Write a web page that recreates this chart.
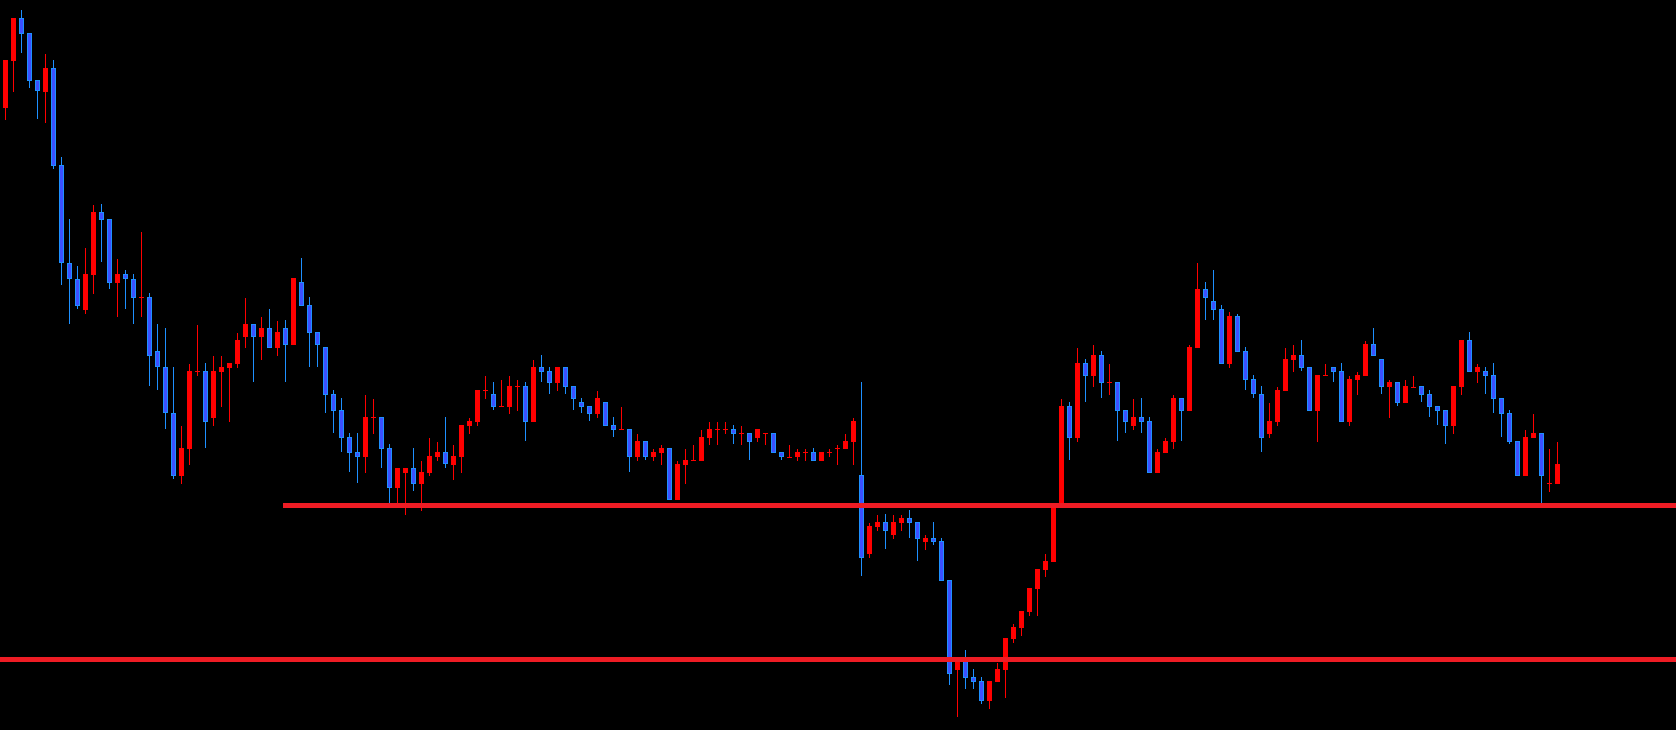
<!DOCTYPE html>
<html>
<head>
<meta charset="utf-8">
<script src="https://cdn.jsdelivr.net/npm/d3@7"></script>
<style>
  html, body { margin: 0; padding: 0; background: #000; overflow: hidden; }
  svg { display: block; }
</style>
</head>
<body>
<div class="chart-container"></div>
<script>
// OHLC bars
const open = [
  146.92, 147.39, 147.82, 147.67, 147.20, 147.08, 147.32, 146.35, 145.37, 145.21,
  144.90, 145.25, 145.88, 145.81, 145.17, 145.26, 145.21, 145.03, 145.03, 144.49,
  144.33, 143.87, 143.24, 143.51, 144.29, 144.29, 143.82, 144.28, 144.32, 144.36,
  144.63, 144.76, 144.63, 144.72, 144.52, 144.72, 144.55, 145.18, 144.95, 144.68,
  144.53, 144.06, 143.90, 143.63, 143.48, 143.43, 143.83, 143.83, 143.52, 143.12,
  143.27, 143.32, 143.16, 143.27, 143.43, 143.48, 143.35, 143.43, 143.74, 143.78,
  144.10, 144.06, 143.94, 143.93, 144.14, 144.14, 143.78, 144.33, 144.29, 144.17,
  144.33, 144.14, 143.98, 143.94, 143.86, 143.98, 143.75, 143.71, 143.71, 143.43,
  143.59, 143.43, 143.47, 143.52, 143.00, 143.35, 143.40, 143.39, 143.62, 143.71,
  143.71, 143.71, 143.67, 143.67, 143.62, 143.67, 143.67, 143.48, 143.43, 143.43,
  143.48, 143.48, 143.39, 143.48, 143.52, 143.51, 143.58, 143.25, 142.46, 142.73,
  142.78, 142.65, 142.77, 142.82, 142.78, 142.58, 142.62, 142.59, 142.20, 141.30,
  141.40, 141.23, 141.19, 140.99, 141.18, 141.30, 141.61, 141.72, 141.88, 142.11,
  142.30, 142.38, 142.96, 143.94, 143.62, 144.37, 144.24, 144.45, 144.18, 144.18,
  143.90, 143.74, 143.83, 143.79, 143.27, 143.47, 143.58, 144.02, 143.89, 144.52,
  145.11, 144.99, 144.91, 144.36, 144.84, 144.49, 144.21, 144.06, 143.66, 143.78,
  144.09, 144.40, 144.45, 144.33, 143.89, 144.25, 144.33, 144.29, 143.78, 144.20,
  144.24, 144.56, 144.41, 144.13, 144.18, 143.97, 144.13, 144.14, 144.06, 143.94,
  143.90, 143.74, 144.13, 144.60, 144.28, 144.29, 144.25, 144.02, 143.87, 143.59,
  143.24, 143.62, 143.67, 143.17, 143.16
]
const high = [
  147.40, 147.82, 147.90, 147.67, 147.20, 147.46, 147.40, 146.43, 145.81, 145.34,
  145.52, 145.95, 145.96, 145.81, 145.41, 145.30, 145.26, 145.68, 145.07, 144.76,
  144.72, 144.33, 143.74, 144.36, 144.75, 144.37, 144.44, 144.44, 144.37, 144.67,
  145.02, 144.76, 144.83, 144.91, 144.79, 144.80, 145.22, 145.42, 145.03, 144.68,
  144.53, 144.10, 144.02, 143.67, 143.67, 144.05, 144.01, 143.83, 143.56, 143.32,
  143.32, 143.52, 143.39, 143.62, 143.58, 143.83, 143.55, 143.75, 143.82, 144.10,
  144.24, 144.18, 144.20, 144.24, 144.20, 144.18, 144.40, 144.45, 144.33, 144.33,
  144.33, 144.14, 144.02, 143.94, 144.09, 143.98, 143.83, 143.93, 143.71, 143.66,
  143.59, 143.51, 143.55, 143.52, 143.39, 143.51, 143.55, 143.70, 143.78, 143.78,
  143.78, 143.75, 143.74, 143.67, 143.71, 143.67, 143.67, 143.48, 143.55, 143.51,
  143.51, 143.52, 143.48, 143.51, 143.55, 143.66, 143.82, 144.18, 142.77, 142.85,
  142.86, 142.85, 142.85, 142.90, 142.78, 142.65, 142.78, 142.62, 142.20, 141.42,
  141.50, 141.31, 141.23, 141.19, 141.37, 141.62, 141.76, 141.89, 142.12, 142.31,
  142.46, 142.95, 144.01, 143.98, 144.52, 144.41, 144.55, 144.49, 144.36, 144.18,
  143.90, 144.01, 144.02, 143.83, 143.51, 143.62, 144.05, 144.02, 144.55, 145.37,
  145.18, 145.30, 144.95, 144.88, 144.86, 144.53, 144.25, 144.14, 143.97, 144.13,
  144.52, 144.55, 144.60, 144.33, 144.25, 144.36, 144.33, 144.37, 144.24, 144.28,
  144.59, 144.72, 144.41, 144.20, 144.18, 144.20, 144.24, 144.14, 144.10, 143.94,
  143.90, 144.14, 144.60, 144.68, 144.36, 144.33, 144.37, 144.02, 143.90, 143.59,
  143.70, 143.86, 143.67, 143.51, 143.58
]
const low = [
  146.80, 147.08, 147.47, 147.12, 146.81, 146.77, 146.31, 145.15, 144.76, 144.91,
  144.86, 145.06, 145.38, 145.11, 144.83, 144.91, 144.76, 144.83, 144.14, 144.10,
  143.71, 143.21, 143.16, 143.35, 144.24, 143.52, 143.74, 143.93, 143.78, 144.32,
  144.52, 144.18, 144.40, 144.52, 144.44, 144.18, 144.55, 144.94, 144.33, 144.33,
  143.87, 143.67, 143.48, 143.28, 143.17, 143.27, 143.66, 143.32, 142.96, 142.95,
  142.85, 143.09, 142.89, 143.24, 143.39, 143.32, 143.20, 143.27, 143.66, 143.74,
  144.01, 143.90, 143.94, 143.86, 143.89, 143.59, 143.78, 144.18, 144.06, 144.09,
  144.06, 143.90, 143.87, 143.79, 143.82, 143.74, 143.63, 143.71, 143.28, 143.39,
  143.40, 143.39, 143.35, 143.00, 143.00, 143.16, 143.40, 143.39, 143.55, 143.55,
  143.66, 143.56, 143.55, 143.40, 143.58, 143.55, 143.47, 143.40, 143.43, 143.39,
  143.39, 143.39, 143.39, 143.43, 143.35, 143.51, 143.35, 142.24, 142.42, 142.69,
  142.51, 142.61, 142.69, 142.62, 142.39, 142.50, 142.55, 142.19, 141.15, 140.83,
  141.11, 141.11, 140.96, 140.91, 141.18, 141.02, 141.57, 141.64, 141.84, 141.84,
  142.23, 142.38, 142.96, 143.40, 143.58, 143.98, 144.13, 144.02, 144.05, 143.59,
  143.67, 143.70, 143.67, 143.27, 143.27, 143.47, 143.51, 143.59, 143.89, 144.52,
  144.80, 144.80, 144.36, 144.32, 144.48, 144.10, 144.02, 143.48, 143.62, 143.74,
  144.09, 144.28, 144.29, 143.89, 143.58, 144.25, 144.18, 143.78, 143.74, 144.05,
  144.24, 144.44, 144.06, 143.82, 143.94, 143.97, 144.13, 143.98, 143.83, 143.75,
  143.56, 143.66, 144.05, 144.28, 144.17, 144.06, 143.87, 143.63, 143.56, 143.24,
  143.24, 143.62, 142.97, 143.08, 143.16
]
const close = [
  147.40, 147.82, 147.66, 147.19, 147.09, 147.32, 146.34, 145.37, 145.21, 144.94,
  145.26, 145.88, 145.80, 145.17, 145.26, 145.21, 145.02, 145.03, 144.44, 144.33,
  143.87, 143.24, 143.52, 144.29, 144.29, 143.78, 144.29, 144.33, 144.37, 144.60,
  144.76, 144.63, 144.72, 144.52, 144.68, 144.55, 145.22, 144.94, 144.67, 144.55,
  144.05, 143.89, 143.62, 143.47, 143.43, 143.83, 143.83, 143.51, 143.12, 143.32,
  143.32, 143.16, 143.28, 143.44, 143.48, 143.36, 143.44, 143.75, 143.79, 144.10,
  144.10, 143.93, 143.94, 144.14, 144.14, 143.78, 144.33, 144.28, 144.17, 144.33,
  144.13, 144.01, 143.93, 143.86, 144.02, 143.74, 143.70, 143.71, 143.43, 143.59,
  143.43, 143.48, 143.52, 143.00, 143.36, 143.40, 143.40, 143.63, 143.71, 143.71,
  143.71, 143.66, 143.67, 143.58, 143.71, 143.67, 143.47, 143.43, 143.43, 143.48,
  143.48, 143.39, 143.48, 143.48, 143.52, 143.59, 143.79, 142.42, 142.74, 142.78,
  142.69, 142.78, 142.82, 142.77, 142.61, 142.62, 142.58, 142.19, 141.26, 141.42,
  141.22, 141.18, 140.99, 141.19, 141.31, 141.62, 141.73, 141.89, 142.12, 142.31,
  142.39, 142.94, 143.94, 143.62, 144.37, 144.24, 144.45, 144.17, 144.18, 143.89,
  143.78, 143.83, 143.78, 143.27, 143.48, 143.59, 144.02, 143.89, 144.53, 145.11,
  145.02, 144.90, 144.36, 144.84, 144.48, 144.20, 144.06, 143.62, 143.79, 144.10,
  144.41, 144.45, 144.32, 143.89, 144.25, 144.25, 144.28, 143.78, 144.21, 144.25,
  144.56, 144.44, 144.13, 144.18, 143.97, 144.14, 144.13, 144.05, 143.93, 143.89,
  143.74, 144.14, 144.60, 144.28, 144.33, 144.24, 144.01, 143.86, 143.58, 143.24,
  143.63, 143.67, 143.24, 143.17, 143.36
]

// horizontal support / resistance levels
const levelPrices = [142.945, 141.405]
const levelFromBar = [35, null] // null = from the left edge

const width = 1676
const height = 730

const UP_COLOR = '#ff0000'
const DOWN_FILL = '#3c50ff'
const DOWN_LINE = '#1e90ff'
const LEVEL_COLOR = '#ee1c24'

const bars = d3.range(open.length).map(i => ({
    i: i,
    open: open[i],
    high: high[i],
    low: low[i],
    close: close[i]
}))

const svg = d3
    .select('.chart-container')
    .append('svg')
    .attr('width', width)
    .attr('height', height)
    .style('background', '#000')

// one bar every 8px, body 5px wide
const x = d3
    .scaleBand()
    .domain(bars.map(d => d.i))
    .range([1.5, 1.5 + 8 * bars.length])
    .paddingInner(0.375)
    .paddingOuter(0.1875)

const y = d3
    .scaleLinear()
    .domain([140.7, 148.0])
    .range([height, 0])

const bw = x.bandwidth()
const isUp = d => d.close >= d.open

const candle = svg
    .append('g')
    .attr('class', 'candles')
    .selectAll('g')
    .data(bars)
    .enter()
    .append('g')
    .attr('class', 'candle')

candle
    .append('line')
    .attr('x1', d => x(d.i) + bw / 2)
    .attr('x2', d => x(d.i) + bw / 2)
    .attr('y1', d => y(d.high))
    .attr('y2', d => y(d.low))
    .attr('stroke', d => (isUp(d) ? UP_COLOR : DOWN_LINE))
    .attr('stroke-width', 1)
    .attr('shape-rendering', 'crispEdges')

// bull bodies: solid red
candle
    .filter(isUp)
    .append('rect')
    .attr('x', d => x(d.i))
    .attr('y', d => y(d.close))
    .attr('width', bw)
    .attr('height', d => Math.max(1, y(d.open) - y(d.close)))
    .attr('fill', UP_COLOR)
    .attr('shape-rendering', 'crispEdges')

// bear bodies: blue fill with lighter outline
candle
    .filter(d => !isUp(d))
    .append('rect')
    .attr('x', d => x(d.i) + 0.5)
    .attr('y', d => y(d.open) + 0.5)
    .attr('width', bw - 1)
    .attr('height', d => Math.max(0, y(d.close) - y(d.open) - 1))
    .attr('fill', DOWN_FILL)
    .attr('stroke', DOWN_LINE)
    .attr('stroke-width', 1)
    .attr('shape-rendering', 'crispEdges')

svg
    .append('g')
    .attr('class', 'levels')
    .selectAll('line')
    .data(levelPrices)
    .enter()
    .append('line')
    .attr('x1', (d, i) => (levelFromBar[i] === null ? 0 : x(levelFromBar[i])))
    .attr('x2', width)
    .attr('y1', d => y(d))
    .attr('y2', d => y(d))
    .attr('stroke', LEVEL_COLOR)
    .attr('stroke-width', 5)
</script>
</body>
</html>
